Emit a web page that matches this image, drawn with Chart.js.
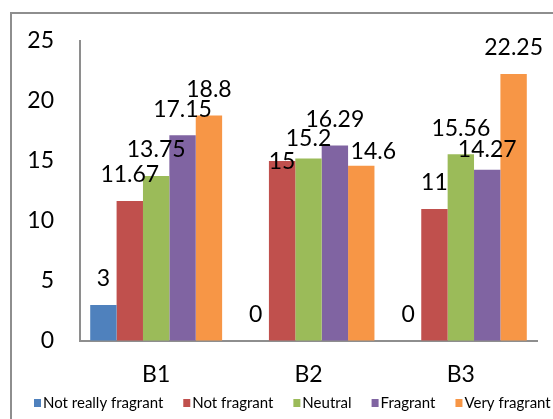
<!DOCTYPE html>
<html>
<head>
<meta charset="utf-8">
<script src="https://cdn.jsdelivr.net/npm/chart.js@4"></script>
<style>
  html, body { margin: 0; padding: 0; background: #fff; overflow: hidden; }
  #scores { display: block; }
</style>
</head>
<body>
<canvas id="scores" width="553" height="419"></canvas>
<script>
const categories = ["B1", "B2", "B3"];
const seriesNames = ["Not really fragrant", "Not fragrant", "Neutral", "Fragrant", "Very fragrant"];
const notReallyFragrant = [3, 0, 0];
const notFragrant = [11.67, 15, 11];
const neutral = [13.75, 15.2, 15.56];
const fragrant = [17.15, 16.29, 14.27];
const veryFragrant = [18.8, 14.6, 22.25];
const yTicks = [0, 5, 10, 15, 20, 25];

const colors = ["#4F81BD", "#C0504D", "#9BBB59", "#8064A2", "#F79646"];
// small hand nudges [dx, dy] for labels that would collide
const labelShift = [
  [[0, 0], [0, 0], [0, 0]],
  [[0, 0], [0, 27], [0, 0]],
  [[0, 0], [0, 6], [0, 0]],
  [[0, 0], [0, 0], [0, 6]],
  [[0, 0], [12, 12], [0, 0]],
];

const FONT = "Lato";
const axisGrey = "#8e8e8e";

const values = [notReallyFragrant, notFragrant, neutral, fragrant, veryFragrant];

// outer frame around the whole chart
const framePlugin = {
  id: "frame",
  beforeDraw(chart) {
    const c = chart.ctx;
    c.save();
    c.strokeStyle = axisGrey;
    c.lineWidth = 2;
    c.strokeRect(11, 13, 600, 500);
    c.restore();
  },
};

// value labels above each bar
const valueLabels = {
  id: "valueLabels",
  afterDatasetsDraw(chart) {
    const c = chart.ctx;
    c.save();
    c.font = "23px " + FONT;
    c.fillStyle = "#000";
    c.textAlign = "center";
    c.textBaseline = "middle";
    chart.data.datasets.forEach((ds, i) => {
      chart.getDatasetMeta(i).data.forEach((bar, j) => {
        const [dx, dy] = labelShift[i][j];
        c.fillText(String(ds.data[j]), bar.x + dx, bar.y - 26 + dy);
      });
    });
    c.restore();
  },
};

// one-row legend along the bottom, left to right from x = 34
const bottomLegend = {
  id: "bottomLegend",
  afterDraw(chart) {
    const c = chart.ctx;
    c.save();
    c.font = "15px " + FONT;
    c.textBaseline = "middle";
    c.textAlign = "left";
    let x = 34;
    const y = 403;
    chart.data.datasets.forEach((ds) => {
      c.fillStyle = ds.backgroundColor;
      c.fillRect(x, y - 4, 7, 8);
      c.fillStyle = "#000";
      c.fillText(ds.label, x + 9, y);
      x += 9 + c.measureText(ds.label).width + 20;
    });
    c.restore();
  },
};

new Chart(document.getElementById("scores"), {
  type: "bar",
  data: {
    labels: categories,
    datasets: seriesNames.map((name, i) => ({
      label: name,
      data: values[i],
      backgroundColor: colors[i],
      borderWidth: 0,
      categoryPercentage: 0.866,
      barPercentage: 1,
    })),
  },
  options: {
    responsive: false,
    animation: false,
    layout: { padding: { top: 41, left: 0, right: 16, bottom: 30 } },
    scales: {
      x: {
        grid: { drawOnChartArea: false, drawTicks: false },
        border: { color: axisGrey, width: 2 },
        ticks: { color: "#000", font: { family: FONT, size: 23 }, padding: 20 },
        afterFit(scale) { scale.height = 48; },
      },
      y: {
        min: 0,
        max: 25,
        afterBuildTicks(scale) { scale.ticks = yTicks.map((v) => ({ value: v })); },
        grid: { drawOnChartArea: false, drawTicks: false },
        border: { color: axisGrey, width: 2 },
        ticks: { color: "#000", font: { family: FONT, size: 23 }, padding: 26 },
        afterFit(scale) { scale.width = 80; },
      },
    },
    plugins: {
      tooltip: { enabled: false },
      legend: { display: false },
    },
  },
  plugins: [framePlugin, valueLabels, bottomLegend],
});
</script>
</body>
</html>
